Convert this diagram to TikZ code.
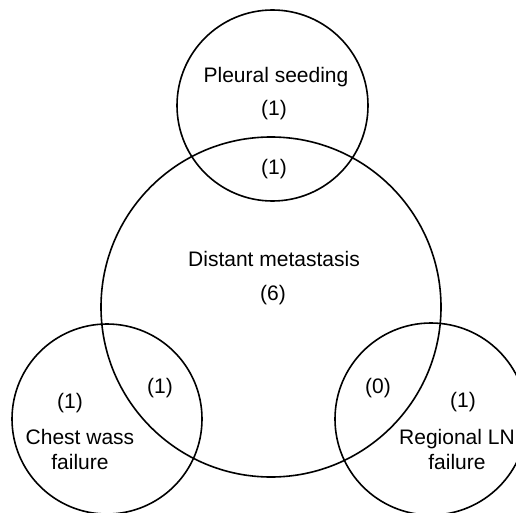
\documentclass[tikz,border=0pt]{standalone}
\usepackage{fontspec}
\setmainfont{Liberation Sans}
\begin{document}
\begin{tikzpicture}[x=1pt,y=-1pt,
  ring/.style={circle,draw=black,line width=1.6pt,inner sep=0pt,outer sep=0pt},
  lbl/.style={font=\fontsize{21}{25}\selectfont,inner sep=0pt,align=center}]
\useasboundingbox (0,0) rectangle (516,513);
\begin{scope}
\clip (0,0) rectangle (516,513);
\node[ring,minimum size=191pt] (pleural) at (272.5,105.5) {};
\node[ring,minimum size=340pt] (distant) at (271,307) {};
\node[ring,minimum size=190pt] (chest) at (107,419) {};
\node[ring,minimum size=192pt] (regional) at (431,419) {};
\end{scope}
\node[lbl] (t1) at (276,77) {Pleural seeding};
\node[lbl] (t2) at (274,110) {(1)};
\node[lbl] (t3) at (274,169) {(1)};
\node[lbl] (t4) at (274,259) {Distant metastasis};
\node[lbl] (t5) at (273,295) {(6)};
\node[lbl] (t6) at (70,403) {(1)};
\node[lbl] (t7) at (80,449) {Chest wass\\failure};
\node[lbl] (t8) at (160,388) {(1)};
\node[lbl] (t9) at (378,388) {(0)};
\node[lbl] (t10) at (463,402) {(1)};
\node[lbl] (t11) at (457,449) {Regional LN\\failure};
\end{tikzpicture}
\end{document}
